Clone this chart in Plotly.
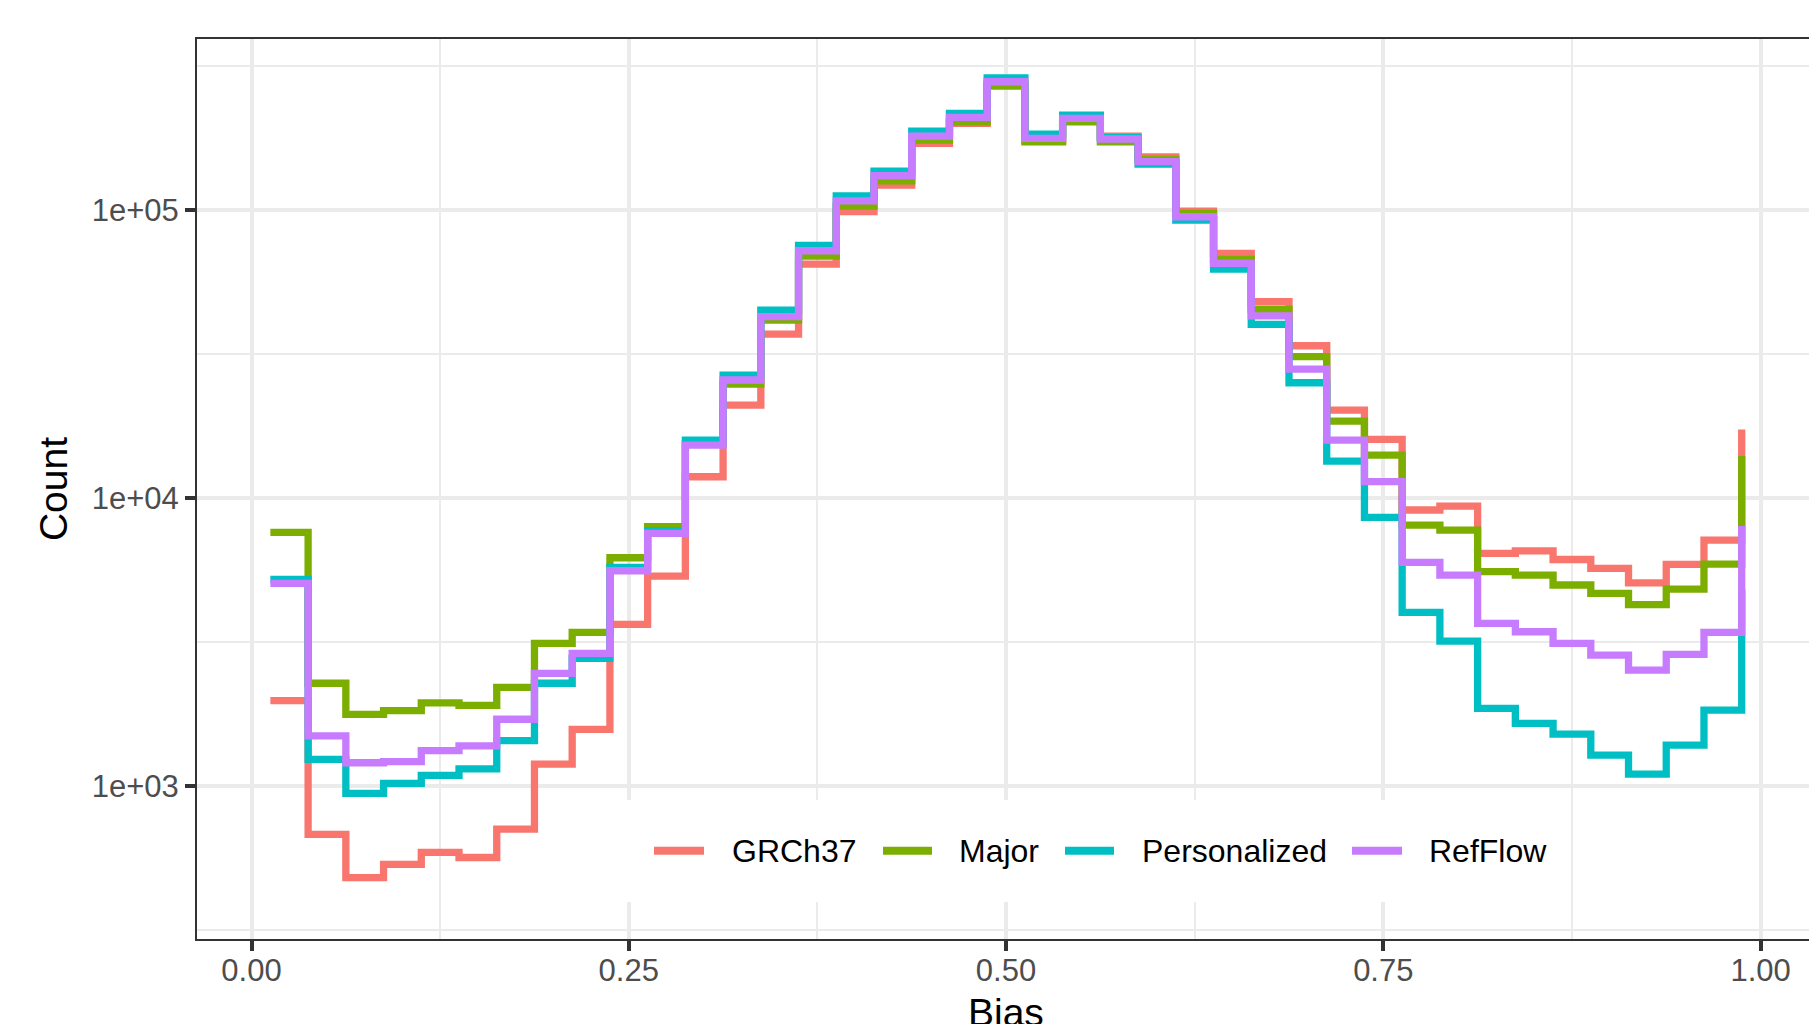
import plotly.graph_objects as go

# Bin centres (bias), binwidth 0.025
bias = [0.0125, 0.0375, 0.0625, 0.0875, 0.1125, 0.1375, 0.1625, 0.1875, 0.2125, 0.2375,
        0.2625, 0.2875, 0.3125, 0.3375, 0.3625, 0.3875, 0.4125, 0.4375, 0.4625, 0.4875,
        0.5125, 0.5375, 0.5625, 0.5875, 0.6125, 0.6375, 0.6625, 0.6875, 0.7125, 0.7375,
        0.7625, 0.7875, 0.8125, 0.8375, 0.8625, 0.8875, 0.9125, 0.9375, 0.9625, 0.9875]

grch37 = [1980, 680, 481, 535, 589, 565, 709, 1192, 1574, 3643,
          5360, 11860, 21040, 37100, 64940, 98700, 122100, 170400, 200000, 274000,
          175000, 205000, 180600, 153100, 99200, 70750, 48050, 33800, 20200, 16000,
          9090, 9380, 6430, 6560, 6120, 5700, 5080, 5890, 7150, 17300]

major = [7600, 2275, 1775, 1827, 1946, 1905, 2203, 3128, 3418, 6205,
         7950, 15400, 24890, 41500, 69200, 103200, 126400, 175000, 202600, 269600,
         172600, 202600, 172600, 150000, 97300, 67400, 45200, 30960, 18510, 14100,
         8060, 7740, 5550, 5400, 4990, 4670, 4266, 4830, 5900, 14000]

personalized = [5220, 1238, 944, 1021, 1089, 1148, 1438, 2275, 2775, 5746,
                7700, 15890, 26740, 44960, 75400, 112100, 136600, 188000, 216600, 287900,
                183600, 213800, 178500, 144500, 92300, 62400, 40080, 25140, 13440, 8570,
                4010, 3187, 1862, 1651, 1516, 1281, 1101, 1387, 1836, 4800]

refflow = [5060, 1493, 1205, 1215, 1327, 1380, 1706, 2462, 2889, 5592,
           7540, 15270, 25700, 42630, 72250, 107700, 131600, 180600, 209800, 279000,
           177400, 208000, 176500, 147200, 94800, 65300, 42950, 28050, 15890, 11400,
           5980, 5400, 3670, 3435, 3128, 2850, 2528, 2866, 3418, 8000]

series_names = ["GRCh37", "Major", "Personalized", "RefFlow"]
series_values = [grch37, major, personalized, refflow]
series_colors = ["#F8766D", "#7CAE00", "#00BFC4", "#C77CFF"]

x_tick_vals = [0, 0.25, 0.5, 0.75, 1.0]
x_tick_text = ["0.00", "0.25", "0.50", "0.75", "1.00"]
x_minor_vals = [0.125, 0.375, 0.625, 0.875]
y_tick_vals = [1e3, 1e4, 1e5]
y_tick_text = ["1e+03", "1e+04", "1e+05"]
y_minor_vals = [10 ** 2.5, 10 ** 3.5, 10 ** 4.5, 10 ** 5.5]

FONT = "Liberation Sans, Arial, Helvetica, sans-serif"
GRID = "#EBEBEB"
AX = "#333333"

# Plot area spans page x 197..1809, y 39..939 (body margin removed below)
PL, PR, PT, PB = 197.0, 1809.0, 39.0, 939.0


def px(vx):
    return (vx - PL) / (PR - PL)


def py(vy):
    return (PB - vy) / (PB - PT)


fig = go.Figure()
for name, vals, col in zip(series_names, series_values, series_colors):
    fig.add_trace(go.Scatter(
        x=bias, y=vals, mode="lines", name=name, showlegend=False,
        line=dict(shape="hv", color=col, width=7.3),
    ))

# ggplot-style legend inside the panel (white box, long keys)
shapes = [dict(type="rect", xref="paper", yref="paper", layer="above",
               x0=px(624), x1=px(1566), y0=py(902), y1=py(800),
               fillcolor="white", line=dict(width=0))]
annotations = []
key_x = [(654, 704), (883, 932), (1065, 1114), (1352, 1402)]
text_x = [730, 957, 1140, 1426.5]
for name, col, (k0, k1), tx in zip(series_names, series_colors, key_x, text_x):
    shapes.append(dict(type="line", xref="paper", yref="paper", layer="above",
                       x0=px(k0), x1=px(k1), y0=py(850.7), y1=py(850.7),
                       line=dict(color=col, width=8)))
    annotations.append(dict(text=name, xref="paper", yref="paper", x=px(tx), y=py(850.5),
                            xanchor="left", yanchor="middle", showarrow=False,
                            font=dict(size=32, color="black", family=FONT)))

# x-axis title (sits partly below the page edge, as in the reference)
annotations.append(dict(text="Bias", xref="paper", yref="paper", x=px(1006), y=py(1012),
                        xanchor="center", yanchor="middle", showarrow=False,
                        font=dict(size=39, color="black", family=FONT)))

fig.update_layout(
    width=1809, height=1024,
    margin=dict(l=197, r=0, t=39, b=85, autoexpand=False),
    paper_bgcolor="white", plot_bgcolor="white",
    font=dict(family=FONT, color="black"),
    showlegend=False,
    shapes=shapes,
    annotations=annotations,
    xaxis=dict(
        range=[-0.03613, 1.0321], tickvals=x_tick_vals, ticktext=x_tick_text,
        showgrid=True, gridcolor=GRID, gridwidth=4, zeroline=False,
        minor=dict(tickvals=x_minor_vals, showgrid=True, gridcolor=GRID, gridwidth=2, ticks=""),
        ticks="outside", ticklen=10, tickwidth=4, tickcolor=AX, ticklabelstandoff=-7,
        tickfont=dict(size=31, color="#4D4D4D", family=FONT),
        showline=True, linecolor=AX, linewidth=2, mirror=True,
        automargin=False,
    ),
    yaxis=dict(
        type="log", range=[2.469, 5.594], tickvals=y_tick_vals, ticktext=y_tick_text,
        showgrid=True, gridcolor=GRID, gridwidth=4, zeroline=False,
        minor=dict(tickvals=y_minor_vals, showgrid=True, gridcolor=GRID, gridwidth=2, ticks=""),
        ticks="outside", ticklen=10, tickwidth=4, tickcolor=AX,
        tickfont=dict(size=31, color="#4D4D4D", family=FONT),
        showline=True, linecolor=AX, linewidth=2, mirror=False,
        title=dict(text="Count", font=dict(size=39, color="black", family=FONT), standoff=12),
        automargin=False,
    ),
)

fig.write_html(
    "out.html",
    config={"displayModeBar": False},
    post_script="document.body.style.margin = '0'; document.body.style.overflow = 'hidden';",
)
